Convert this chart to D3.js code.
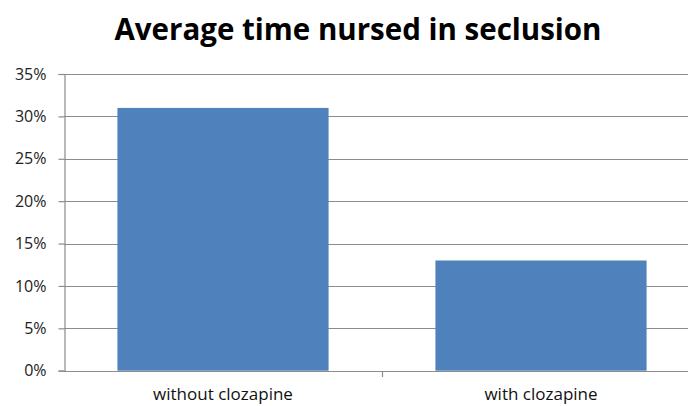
<!DOCTYPE html>
<html>
<head>
<meta charset="utf-8">
<script src="https://cdn.jsdelivr.net/npm/d3@7"></script>
<style>
  html, body { margin: 0; padding: 0; background: #fff; }
  svg { display: block; }
</style>
</head>
<body>
<script>
// Chart data
const categories = ["without clozapine", "with clozapine"];
const values = [31, 13];
const yTicks = [0, 5, 10, 15, 20, 25, 30, 35];
const title = "Average time nursed in seclusion";

const W = 688, H = 406;
const margin = { left: 64, top: 74, bottom: 35 };
const plotRight = 700;
const baseY = H - margin.bottom - 0.3;

const svg = d3.select("body").append("svg")
  .attr("width", W).attr("height", H);

const x = d3.scaleBand()
  .domain(categories)
  .range([margin.left, plotRight])
  .paddingInner(0.336)
  .paddingOuter(0.168);

const y = d3.scaleLinear()
  .domain([0, 35])
  .range([baseY, margin.top]);

// Title
svg.append("text")
  .attr("x", 358).attr("y", 40)
  .attr("text-anchor", "middle")
  .style("font-family", "'Open Sans', Lato, sans-serif")
  .style("font-weight", "bold")
  .style("font-size", "29.5px")
  .style("fill", "#000")
  .text(title);

// Horizontal gridlines
svg.append("g")
  .selectAll("line")
  .data(yTicks.filter(d => d > 0))
  .join("line")
  .attr("x1", margin.left).attr("x2", W)
  .attr("y1", d => Math.round(y(d)) + 0.5)
  .attr("y2", d => Math.round(y(d)) + 0.5)
  .attr("stroke", "#8c8c8c")
  .attr("stroke-width", 1.2);

// Bars
svg.append("g")
  .selectAll("rect")
  .data(values)
  .join("rect")
  .attr("x", (d, i) => x(categories[i]))
  .attr("width", x.bandwidth())
  .attr("y", d => y(d))
  .attr("height", d => y(0) - y(d))
  .attr("fill", "#4f81bd");

// Y axis
const yAxis = d3.axisLeft(y)
  .tickValues(yTicks)
  .tickFormat(d => d + "%")
  .tickSize(6)
  .tickPadding(12);

const gy = svg.append("g")
  .attr("transform", `translate(${margin.left + 0.5},0)`)
  .call(yAxis);
gy.select(".domain").attr("stroke", "#8c8c8c").attr("stroke-width", 1.2);
gy.selectAll(".tick line").attr("stroke", "#8c8c8c").attr("stroke-width", 1.2);
gy.selectAll(".tick text")
  .style("font-family", "'Open Sans', Lato, sans-serif")
  .style("font-size", "16px")
  .style("fill", "#222");

// X axis baseline with category boundary ticks
svg.append("line")
  .attr("x1", margin.left).attr("x2", W)
  .attr("y1", Math.round(y(0)) + 0.5).attr("y2", Math.round(y(0)) + 0.5)
  .attr("stroke", "#8c8c8c").attr("stroke-width", 1.2);

const step = x.step();
svg.append("g")
  .selectAll("line")
  .data([x(categories[1]) - step * x.paddingInner() / 2])
  .join("line")
  .attr("x1", d => Math.round(d) + 0.5).attr("x2", d => Math.round(d) + 0.5)
  .attr("y1", Math.round(y(0))).attr("y2", Math.round(y(0)) + 6)
  .attr("stroke", "#8c8c8c").attr("stroke-width", 1.2);

// Category labels
svg.append("g")
  .selectAll("text")
  .data(categories)
  .join("text")
  .attr("x", d => x(d) + x.bandwidth() / 2)
  .attr("y", 400)
  .attr("text-anchor", "middle")
  .style("font-family", "'Open Sans', Lato, sans-serif")
  .style("font-size", "17px")
  .style("fill", "#111")
  .text(d => d);
</script>
</body>
</html>
